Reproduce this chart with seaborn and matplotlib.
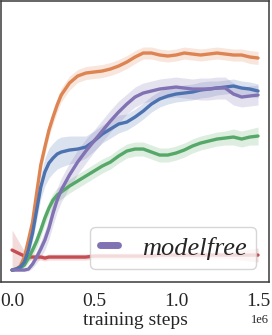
"""Training curves: mean return with shaded spread, one legend entry."""

import numpy as np
import pandas as pd
import matplotlib
matplotlib.use("Agg")
import matplotlib.pyplot as plt
import seaborn as sns

# training steps (x), denser at the start where curves rise fast
steps = [0, 25e3, 50e3, 75e3, 100e3, 125e3, 150e3, 175e3, 200e3, 225e3, 250e3,
         275e3, 300e3, 350e3, 400e3, 450e3, 500e3, 550e3, 600e3, 650e3, 700e3,
         750e3, 800e3, 850e3, 900e3, 950e3, 1000e3, 1050e3, 1100e3, 1150e3,
         1200e3, 1250e3, 1300e3, 1350e3, 1400e3, 1450e3, 1500e3]

# mean returns per run
orange_mean = [0, 10, 40, 130, 300, 480, 770, 1050, 1230, 1400, 1530, 1650, 1750,
               1870, 1940, 1970, 1980, 1990, 2010, 2040, 2080, 2130, 2170, 2170,
               2150, 2140, 2150, 2170, 2160, 2150, 2160, 2170, 2160, 2150, 2150,
               2130, 2120]
blue_mean = [0, 10, 30, 80, 200, 370, 600, 830, 980, 1070, 1120, 1160, 1180,
             1200, 1210, 1230, 1290, 1360, 1410, 1460, 1480, 1530, 1590, 1660,
             1710, 1740, 1760, 1770, 1780, 1800, 1810, 1820, 1830, 1840, 1820,
             1810, 1790]
purple_mean = [0, 0, 0, 0, 10, 60, 130, 210, 300, 420, 570, 700, 800, 950, 1080,
               1190, 1290, 1390, 1490, 1580, 1660, 1730, 1770, 1790, 1810, 1820,
               1830, 1820, 1810, 1810, 1810, 1820, 1820, 1760, 1730, 1740, 1750]
green_mean = [0, 10, 20, 50, 120, 200, 290, 400, 520, 620, 700, 750, 780, 840,
              890, 940, 990, 1040, 1080, 1140, 1190, 1210, 1210, 1180, 1150, 1150,
              1170, 1200, 1240, 1270, 1290, 1310, 1320, 1330, 1310, 1330, 1340]
red_mean = [200, 180, 160, 140, 130, 130, 130, 130, 120, 130, 130, 130, 130, 130,
            130, 130, 140, 140, 140, 140, 140, 140, 140, 140, 150, 150, 150, 150,
            150, 150, 150, 150, 150, 150, 150, 150, 150]

# half width of the shaded band
orange_hw = [0, 10, 30, 50, 60, 70, 70, 70, 70, 70, 70, 70, 70, 70, 65, 65, 65, 65,
             65, 65, 65, 65, 60, 60, 60, 60, 60, 60, 60, 60, 60, 60, 60, 60, 60, 65, 65]
blue_hw = [0, 10, 20, 40, 60, 80, 100, 120, 140, 150, 150, 150, 150, 140, 130, 110,
           100, 90, 90, 90, 80, 80, 80, 80, 80, 80, 80, 80, 80, 80, 80, 70, 70, 70,
           70, 70, 70]
purple_hw = [0, 0, 0, 10, 20, 40, 60, 80, 100, 110, 120, 120, 120, 120, 120, 120,
             110, 110, 110, 110, 100, 100, 100, 100, 100, 100, 100, 100, 100, 110,
             110, 110, 110, 110, 100, 100, 100]
green_hw = [0, 10, 20, 30, 50, 60, 70, 70, 70, 70, 70, 70, 70, 70, 70, 70, 70, 70,
            70, 70, 70, 70, 70, 70, 70, 70, 70, 70, 70, 70, 70, 70, 70, 80, 80, 80, 90]
red_hw = [200, 150, 100, 50, 30, 30, 30, 30, 30, 30, 30, 30, 30, 30, 30, 30, 30,
          30, 30, 30, 30, 30, 30, 30, 30, 30, 30, 30, 30, 30, 30, 30, 30, 40, 50,
          60, 70]

palette = sns.color_palette("deep")
runs = [
    (None, red_mean, red_hw, palette[3]),
    (None, orange_mean, orange_hw, palette[1]),
    (None, green_mean, green_hw, palette[2]),
    (None, blue_mean, blue_hw, palette[0]),
    ("modelfree", purple_mean, purple_hw, palette[4]),
]

sns.set_style("white")
plt.rcParams["font.family"] = ["Liberation Serif", "DejaVu Serif"]
plt.rcParams["axes.edgecolor"] = "#3a3a3a"
plt.rcParams["axes.linewidth"] = 1.1

fig, ax = plt.subplots(figsize=(2.72, 3.35), dpi=100)
fig.subplots_adjust(left=0.004, right=0.989, top=0.997, bottom=0.158)

x = np.array(steps)
for label, mean, hw, color in runs:
    mean = np.array(mean, dtype=float)
    hw = np.array(hw, dtype=float)
    df = pd.DataFrame({"step": x, "ret": mean})
    sns.lineplot(data=df, x="step", y="ret", ax=ax, color=color, lw=2.4,
                 label=label, legend=False)
    ax.fill_between(x, mean - hw, mean + hw, color=color, alpha=0.2, lw=0)

ax.set_xlim(-67000, 1567000)
ax.set_ylim(-120, 2690)
ax.set_xticks([0, 0.5e6, 1.0e6, 1.5e6])
ax.set_yticks([])
ax.set_ylabel("")
ax.tick_params(axis="x", length=0, pad=8, labelsize=14)
ax.xaxis.get_offset_text().set_fontsize(9)
ax.set_xlabel("training steps", fontsize=14, labelpad=1)
for s in ax.spines.values():
    s.set_visible(True)

handles, labels = ax.get_legend_handles_labels()
leg = ax.legend(handles[-1:], labels[-1:], loc="lower right",
                prop={"family": "Liberation Serif", "style": "italic", "size": 19},
                handlelength=0.7, handletextpad=0.9, borderpad=0.35,
                framealpha=0.8)
for line in leg.get_lines():
    line.set_linewidth(5)
    line.set_solid_capstyle("round")

plt.savefig("out.png", dpi=100)
plt.close()
